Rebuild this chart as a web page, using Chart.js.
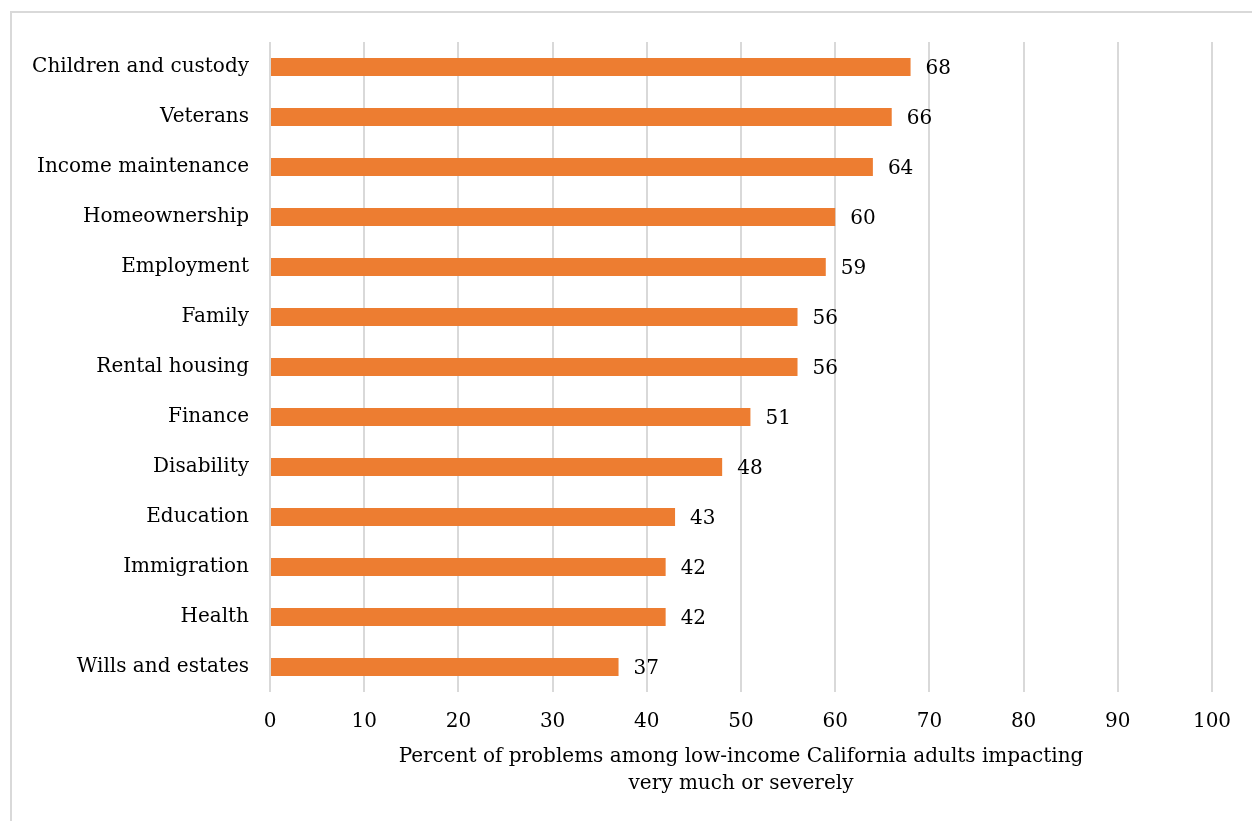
<!DOCTYPE html>
<html>
<head>
<meta charset="utf-8">
<script src="https://cdn.jsdelivr.net/npm/chart.js@4"></script>
<style>
  html, body { margin: 0; padding: 0; background: #fff; }
  #wrap { position: relative; width: 1252px; height: 821px; overflow: hidden; }
  #frame { position: absolute; left: 10px; top: 11px; right: -20px; bottom: -20px;
           border-left: 2px solid #d9d9d9; border-top: 2px solid #d9d9d9; }
  canvas { position: absolute; left: 0; top: 0; }
</style>
</head>
<body>
<div id="wrap">
  <div id="frame"></div>
  <canvas id="chart" width="1252" height="821"></canvas>
</div>
<script>
  // Kategorien und Werte (von oben nach unten)
  const categories = [
    "Children and custody", "Veterans", "Income maintenance", "Homeownership",
    "Employment", "Family", "Rental housing", "Finance", "Disability",
    "Education", "Immigration", "Health", "Wills and estates"
  ];
  const values = [68, 66, 64, 60, 59, 56, 56, 51, 48, 43, 42, 42, 37];
  const axisTitle = ["Percent of problems among low-income California adults impacting", "very much or severely"];

  const FONT = "'DejaVu Serif', serif";

  // Werte rechts neben die Balken schreiben
  const valueLabels = {
    id: "valueLabels",
    afterDatasetsDraw(chart) {
      const ctx = chart.ctx;
      const meta = chart.getDatasetMeta(0);
      ctx.save();
      ctx.font = "20px " + FONT;
      ctx.fillStyle = "#000";
      ctx.textAlign = "left";
      ctx.textBaseline = "middle";
      meta.data.forEach((bar, i) => {
        ctx.fillText(values[i], bar.x + 15, bar.y + 2);
      });
      ctx.restore();
    }
  };

  new Chart(document.getElementById("chart"), {
    type: "bar",
    data: {
      labels: categories,
      datasets: [{
        data: values,
        backgroundColor: "#ED7D31",
        barPercentage: 0.36,
        categoryPercentage: 1.0
      }]
    },
    options: {
      indexAxis: "y",
      responsive: false,
      animation: false,
      layout: { padding: { left: 0, top: 42, right: 40, bottom: 20 } },
      plugins: { legend: { display: false }, tooltip: { enabled: false } },
      scales: {
        x: {
          min: 0, max: 100,
          ticks: { stepSize: 10, color: "#000", padding: 18, font: { family: FONT, size: 20 } },
          grid: { color: "#d9d9d9", lineWidth: 2, drawTicks: false },
          border: { display: false },
          title: {
            display: true, text: axisTitle, color: "#000",
            font: { family: FONT, size: 20, lineHeight: 1.35 },
            padding: { top: 8 }
          },
          afterFit(scale) { scale.height = 109; }
        },
        y: {
          ticks: { color: "#000", padding: 21, font: { family: FONT, size: 20 } },
          grid: { display: false, drawTicks: false },
          border: { display: false },
          afterFit(scale) { scale.width = 270; }
        }
      }
    },
    plugins: [valueLabels]
  });
</script>
</body>
</html>
